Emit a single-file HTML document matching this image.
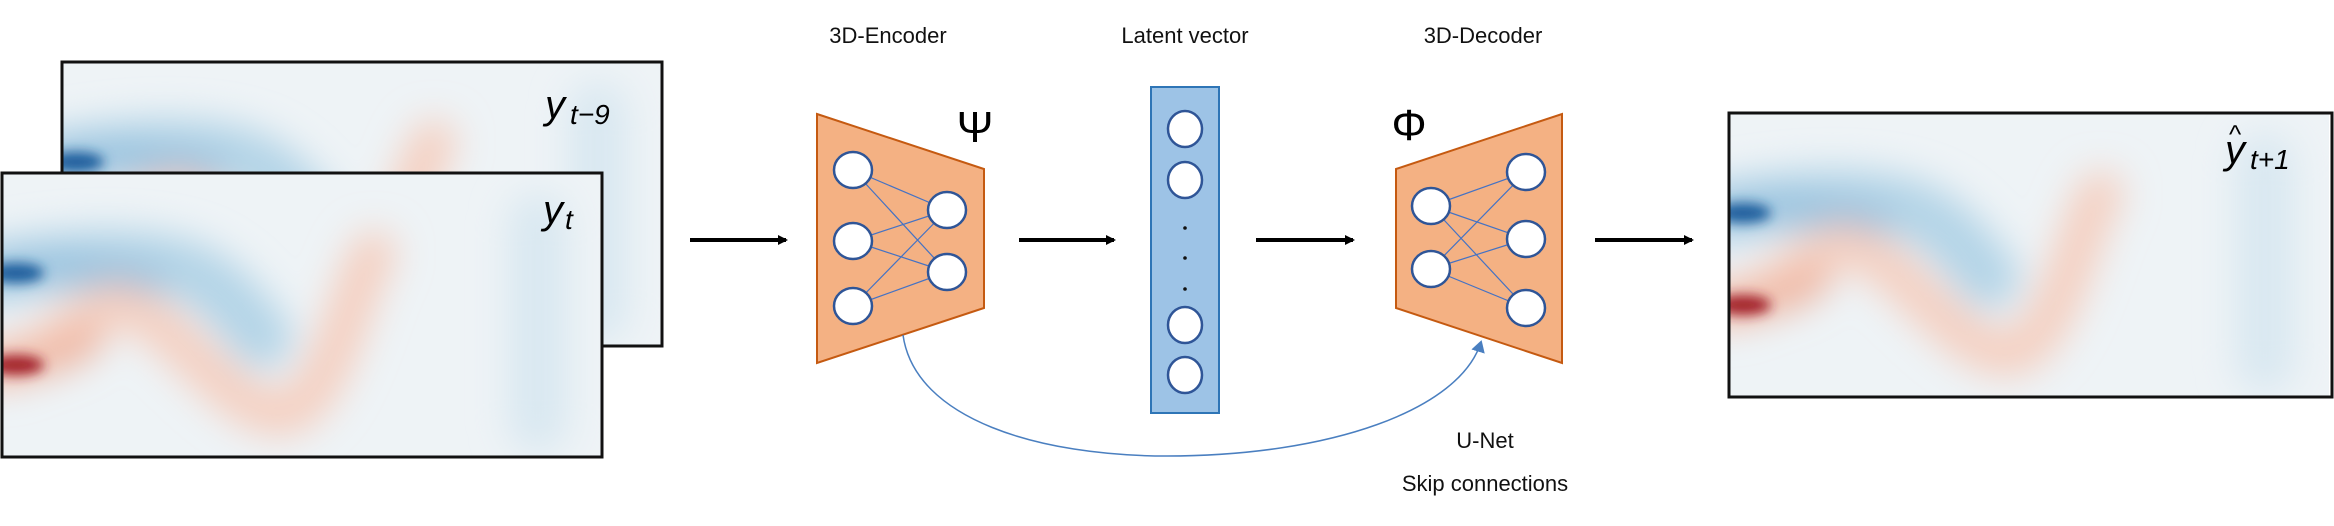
<!DOCTYPE html>
<html><head><meta charset="utf-8"><style>
html,body{margin:0;padding:0;background:#fff;}
svg{display:block;}
text{font-family:"Liberation Sans",sans-serif;}
</style></head><body>
<svg width="2334" height="526" viewBox="0 0 2334 526" xmlns="http://www.w3.org/2000/svg">
<defs>
<filter id="bl" x="-30%" y="-30%" width="160%" height="160%"><feGaussianBlur stdDeviation="18"/></filter>
<filter id="bs" x="-30%" y="-30%" width="160%" height="160%"><feGaussianBlur stdDeviation="6"/></filter>
<clipPath id="fc"><rect x="0" y="0" width="600" height="284"/></clipPath>
<g id="field">
<rect x="0" y="0" width="600" height="284" fill="#eef3f6"/>
<g clip-path="url(#fc)">
<g filter="url(#bl)" fill="none" stroke-linecap="round">
<path d="M-10 100 C60 85 140 80 190 100 C230 120 245 150 260 165" stroke="#b3d4e7" stroke-width="60"/>
<path d="M-10 98 C50 92 100 95 150 108" stroke="#8dbbdb" stroke-width="24"/>
<path d="M-10 192 C40 192 70 140 110 132 C160 125 230 250 283 240 C330 230 350 110 372 80" stroke="#f5cfc0" stroke-width="44"/>
<path d="M-10 192 C30 194 60 188 90 165" stroke="#eeaa92" stroke-width="24"/>
<path d="M536 50 L536 250" stroke="#d9e8f1" stroke-width="60"/>
</g>
<g filter="url(#bs)">
<ellipse cx="14" cy="100" rx="28" ry="10" fill="#1d5d9c"/>
<ellipse cx="14" cy="192" rx="28" ry="10" fill="#a3202b"/>
</g>
</g>
</g>
<marker id="ah" markerWidth="10" markerHeight="10" refX="8" refY="5" orient="auto" markerUnits="userSpaceOnUse"><path d="M0 0 L10 5 L0 10 Z" fill="#000"/></marker>
<marker id="bh" markerWidth="12" markerHeight="14" refX="10" refY="7" orient="auto" markerUnits="userSpaceOnUse"><path d="M0 0 L12 7 L0 14 Z" fill="#4a7fc0"/></marker>
</defs>

<g transform="translate(62,62)"><use href="#field"/><rect x="0" y="0" width="600" height="284" fill="none" stroke="#111" stroke-width="3"/></g>
<text x="545" y="118" font-family="Liberation Serif" font-style="italic" font-size="40">y</text>
<text x="570" y="124" font-family="Liberation Serif" font-style="italic" font-size="28">t−9</text>
<g transform="translate(2,173)"><use href="#field"/><rect x="0" y="0" width="600" height="284" fill="none" stroke="#111" stroke-width="3"/></g>
<text x="543" y="223" font-family="Liberation Serif" font-style="italic" font-size="40">y</text>
<text x="565" y="229" font-family="Liberation Serif" font-style="italic" font-size="28">t</text>

<g stroke="#000" stroke-width="4" marker-end="url(#ah)">
<line x1="690" y1="240" x2="786" y2="240"/>
<line x1="1019" y1="240" x2="1114" y2="240"/>
<line x1="1256" y1="240" x2="1353" y2="240"/>
<line x1="1595" y1="240" x2="1692" y2="240"/>
</g>

<g font-size="22" fill="#111" text-anchor="middle">
<text x="888" y="43">3D-Encoder</text>
<text x="1185" y="43">Latent vector</text>
<text x="1483" y="43">3D-Decoder</text>
<text x="1485" y="448">U-Net</text>
<text x="1485" y="491">Skip connections</text>
</g>

<polygon points="817,114 984,169 984,308 817,363" fill="#f4b183" stroke="#c55a11" stroke-width="2"/>
<g stroke="#4472c4" stroke-width="1.2">
<line x1="853" y1="170" x2="947" y2="210"/><line x1="853" y1="170" x2="947" y2="272"/>
<line x1="853" y1="241" x2="947" y2="210"/><line x1="853" y1="241" x2="947" y2="272"/>
<line x1="853" y1="306" x2="947" y2="210"/><line x1="853" y1="306" x2="947" y2="272"/>
</g>
<g fill="#fff" stroke="#2f5597" stroke-width="2.5">
<ellipse cx="853" cy="170" rx="19" ry="18"/><ellipse cx="853" cy="241" rx="19" ry="18"/><ellipse cx="853" cy="306" rx="19" ry="18"/>
<ellipse cx="947" cy="210" rx="19" ry="18"/><ellipse cx="947" cy="272" rx="19" ry="18"/>
</g>
<text x="975" y="142" font-family="Liberation Serif" font-size="44" text-anchor="middle">Ψ</text>

<rect x="1151" y="87" width="68" height="326" fill="#9dc3e6" stroke="#2e75b6" stroke-width="2"/>
<g fill="#fff" stroke="#2f5597" stroke-width="2.5">
<ellipse cx="1185" cy="129" rx="17" ry="18"/><ellipse cx="1185" cy="180" rx="17" ry="18"/>
<ellipse cx="1185" cy="325" rx="17" ry="18"/><ellipse cx="1185" cy="375" rx="17" ry="18"/>
</g>
<g fill="#111"><circle cx="1185" cy="228" r="1.8"/><circle cx="1185" cy="258" r="1.8"/><circle cx="1185" cy="289" r="1.8"/></g>

<polygon points="1396,169 1562,114 1562,363 1396,308" fill="#f4b183" stroke="#c55a11" stroke-width="2"/>
<g stroke="#4472c4" stroke-width="1.2">
<line x1="1431" y1="206" x2="1526" y2="172"/><line x1="1431" y1="206" x2="1526" y2="239"/><line x1="1431" y1="206" x2="1526" y2="308"/>
<line x1="1431" y1="269" x2="1526" y2="172"/><line x1="1431" y1="269" x2="1526" y2="239"/><line x1="1431" y1="269" x2="1526" y2="308"/>
</g>
<g fill="#fff" stroke="#2f5597" stroke-width="2.5">
<ellipse cx="1431" cy="206" rx="19" ry="18"/><ellipse cx="1431" cy="269" rx="19" ry="18"/>
<ellipse cx="1526" cy="172" rx="19" ry="18"/><ellipse cx="1526" cy="239" rx="19" ry="18"/><ellipse cx="1526" cy="308" rx="19" ry="18"/>
</g>
<text x="1409" y="140" font-family="Liberation Serif" font-size="44" text-anchor="middle">Φ</text>

<path d="M903 335 C915 420 1040 456 1167 456 C1330 456 1460 410 1481 342" fill="none" stroke="#4a7fc0" stroke-width="1.5" marker-end="url(#bh)"/>

<g transform="translate(1729,113)"><use href="#field"/><rect x="0" y="0" width="603" height="284" fill="none" stroke="#111" stroke-width="3"/></g>
<text x="2225" y="163" font-family="Liberation Serif" font-style="italic" font-size="40">y</text>
<text x="2229" y="143" font-family="Liberation Serif" font-size="26">^</text>
<text x="2250" y="169" font-family="Liberation Serif" font-style="italic" font-size="28">t+1</text>
</svg>
</body></html>
